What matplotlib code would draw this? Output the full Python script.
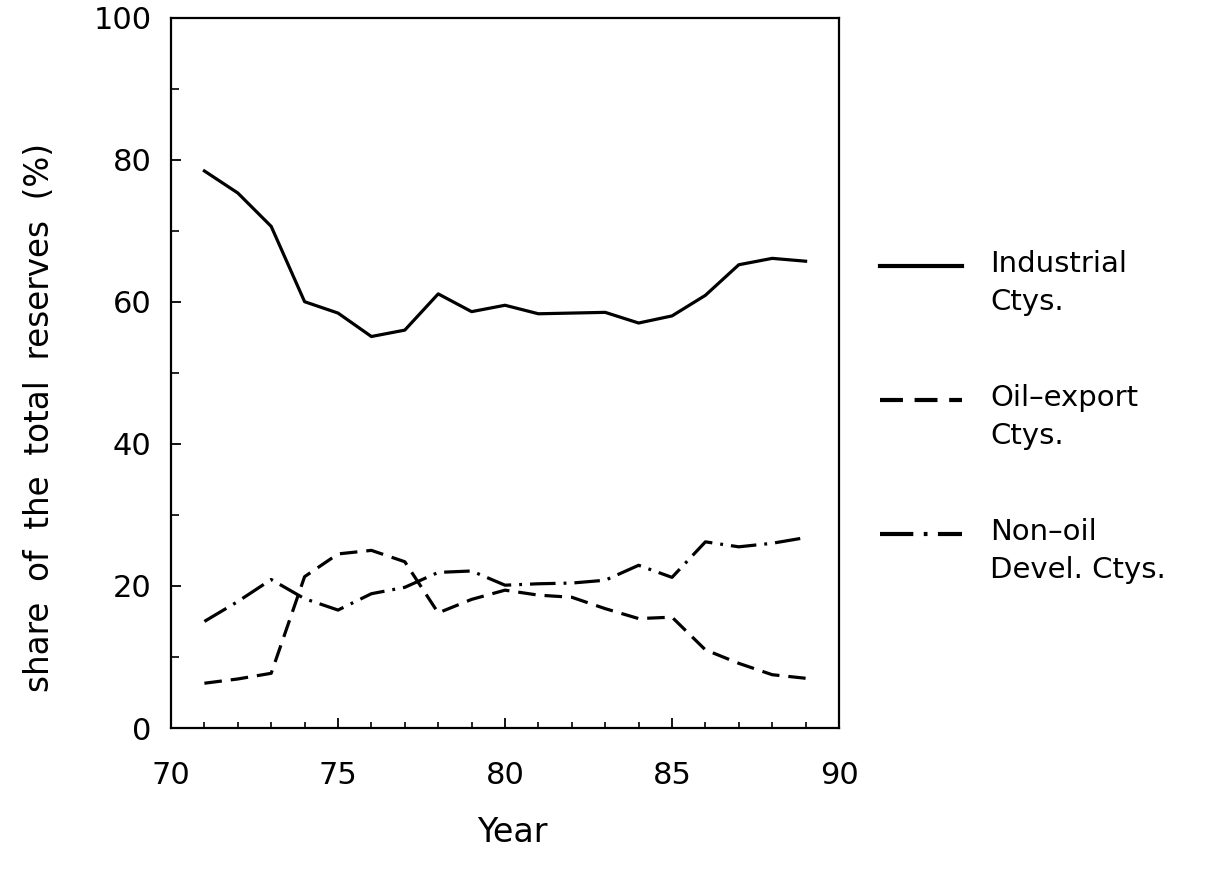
import matplotlib
matplotlib.use("Agg")
import matplotlib.pyplot as plt
from matplotlib.lines import Line2D

years = list(range(71, 90))
industrial = [78.4, 75.3, 70.6, 60.0, 58.4, 55.1, 56.0, 61.1, 58.6, 59.5,
              58.3, 58.4, 58.5, 57.0, 58.0, 60.9, 65.2, 66.1, 65.7]
oil_export = [6.3, 6.9, 7.7, 21.3, 24.5, 25.0, 23.4, 16.2, 18.1, 19.4,
              18.7, 18.4, 16.8, 15.4, 15.6, 11.0, 9.1, 7.5, 7.0]
non_oil = [15.0, 17.8, 20.9, 18.2, 16.6, 18.9, 19.8, 21.9, 22.1, 20.1,
           20.3, 20.4, 20.8, 22.9, 21.2, 26.2, 25.5, 26.0, 26.8]
labels = ["Industrial\nCtys.", "Oil\u2013export\nCtys.", "Non\u2013oil\nDevel. Ctys."]
x_ticks = [70, 75, 80, 85, 90]
y_ticks = [0, 20, 40, 60, 80, 100]

plt.rcParams['font.family'] = ['DejaVu Sans']
FS = 22

fig = plt.figure(figsize=(12.2, 8.74), dpi=100)
W, H = 1220, 874
L, R, T, B = 171, 839, 17.5, 728
ax = fig.add_axes([L / W, 1 - B / H, (R - L) / W, (B - T) / H])

lw = 2.3
ax.plot(years, industrial, color='black', lw=lw, solid_joinstyle='round')
ax.plot(years, oil_export, color='black', lw=lw, dashes=(5.5, 2.8))
ax.plot(years, non_oil, color='black', lw=lw, dashes=(8, 2.5, 0.9, 2.5))

ax.set_xlim(70, 90)
ax.set_ylim(0, 100)
ax.set_xticks(x_ticks)
ax.set_xticklabels([str(v) for v in x_ticks], fontsize=FS)
ax.set_yticks(y_ticks)
ax.set_yticklabels([str(v) for v in y_ticks], fontsize=FS)
ax.set_xticks(range(70, 91), minor=True)
ax.set_yticks(range(0, 101, 10), minor=True)
ax.tick_params(axis='x', which='major', direction='in', length=7, width=1.3, pad=24)
ax.tick_params(axis='x', which='minor', direction='in', length=4, width=1.2)
ax.tick_params(axis='y', which='major', direction='in', length=7, width=1.3, pad=14)
ax.tick_params(axis='y', which='minor', direction='in', length=6, width=1.2)
for s in ax.spines.values():
    s.set_linewidth(1.6)

fig.text(40 / W, 1 - 418 / H, "share  of  the  total  reserves  (%)", rotation=90,
         ha='center', va='center', fontsize=23.5)
fig.text(512 / W, 1 - 832 / H, "Year", ha='center', va='center', fontsize=24)

# legend drawn manually
styles = [dict(), dict(dashes=(5.5, 2.8)), dict(dashes=(8, 2.5, 0.9, 2.5))]
ys = [266, 400, 534]
for lab, st, yy in zip(labels, styles, ys):
    ln = Line2D([880 / W, 962 / W], [1 - yy / H, 1 - yy / H], transform=fig.transFigure,
                color='black', lw=3.0, **st)
    fig.add_artist(ln)
    fig.text(990 / W, 1 - (yy - 16) / H, lab, ha='left', va='top', fontsize=21,
             linespacing=1.45)

fig.savefig("out.png", dpi=100)
